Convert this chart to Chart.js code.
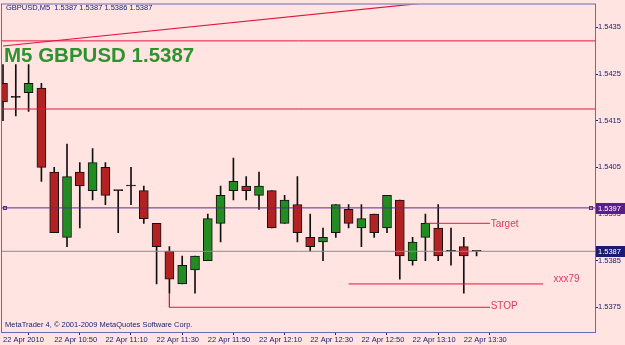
<!DOCTYPE html>
<html><head><meta charset="utf-8">
<script src="https://cdn.jsdelivr.net/npm/chart.js@4/dist/chart.umd.min.js"></script>
<style>html,body{margin:0;padding:0;background:#FFE4E1;overflow:hidden}#wrap{width:625px;height:345px}</style>
</head><body><div id="wrap"><canvas id="c" width="625" height="345"></canvas></div>
<script>
// ---- data (GBPUSD M5, 22 Apr 2010) ----
const barTimes = ['10:30','10:35','10:40','10:45','10:50','10:55','11:00','11:05','11:10','11:15','11:20','11:25','11:30','11:35','11:40','11:45','11:50','11:55','12:00','12:05','12:10','12:15','12:20','12:25','12:30','12:35','12:40','12:45','12:50','12:55','13:00','13:05','13:10','13:15','13:20','13:25','13:30','13:35'];
const openP  = [1.5423,1.5420,1.5421,1.5422,1.5404,1.5390,1.5404,1.5400,1.5405,1.5400,1.5401,1.5400,1.5393,1.5387,1.5380,1.5383,1.5385,1.5393,1.5400,1.5401,1.5399,1.5400,1.5393,1.5397,1.5390,1.5389,1.5391,1.5396,1.5392,1.5395,1.5392,1.5398,1.5385,1.5390,1.5392,1.5387,1.5388,1.5387];
const highP  = [1.5427,1.5427,1.5427,1.5423,1.5405,1.5410,1.5406,1.5409,1.5406,1.5400,1.5405,1.5401,1.5393,1.5388,1.5386,1.5386,1.5395,1.5401,1.5407,1.5403,1.5404,1.5400,1.5399,1.5403,1.5395,1.5392,1.5397,1.5397,1.5397,1.5395,1.5399,1.5398,1.5390,1.5395,1.5397,1.5392,1.5390,1.5387];
const lowP   = [1.5415,1.5416,1.5417,1.5402,1.5391,1.5388,1.5392,1.5398,1.5397,1.5391,1.5397,1.5393,1.5380,1.5378,1.5380,1.5378,1.5385,1.5389,1.5398,1.5398,1.5396,1.5392,1.5393,1.5389,1.5387,1.5385,1.5390,1.5392,1.5388,1.5390,1.5391,1.5381,1.5384,1.5385,1.5385,1.5384,1.5378,1.5386];
const closeP = [1.5419,1.5420,1.5423,1.5405,1.5391,1.5403,1.5401,1.5406,1.5399,1.5400,1.5401,1.5394,1.5388,1.5381,1.5384,1.5386,1.5394,1.5399,1.5402,1.5400,1.5401,1.5392,1.5398,1.5391,1.5388,1.5390,1.5397,1.5393,1.5394,1.5391,1.5399,1.5386,1.5389,1.5393,1.5386,1.5387,1.5386,1.5387];

const xTickTimes  = ['10:30','10:50','11:10','11:30','11:50','12:10','12:30','12:50','13:10','13:30'];
const xTickLabels = ['22 Apr 2010','22 Apr 10:50','22 Apr 11:10','22 Apr 11:30','22 Apr 11:50','22 Apr 12:10','22 Apr 12:30','22 Apr 12:50','22 Apr 13:10','22 Apr 13:30'];
const yTickValues = [1.5375,1.5385,1.5395,1.5405,1.5415,1.5425,1.5435];

// horizontal levels
const redLevelTop   = 1.54321;
const redLevelMid   = 1.54175;
const purpleLevel   = 1.53963;
const purpleLabel   = '1.5397';
const bidLevel      = 1.5387;
const bidLabel      = '1.5387';
// trend line (bar index, price)
const trendStart = [0, 1.5431];
const trendEnd   = [40, 1.54422];
// drawn objects (bar index ranges, price)
const targetLine = {from: 33, to: 38.05, price: 1.5393};
const xxxLine    = {from: 27, to: 42.2, price: 1.5380};
const stopLine   = {from: 13, to: 38.05, price: 1.5375, top: 1.5378};
const textObjects = [
  {text: 'Target', bar: 38.1, price: 1.53928},
  {text: 'xxx79',  bar: 43.0, price: 1.53810},
  {text: 'STOP',   bar: 38.1, price: 1.53753}
];
const headerText = 'GBPUSD,M5  1.5387 1.5387 1.5386 1.5387';
const titleText  = 'M5 GBPUSD 1.5387';
const footerText = 'MetaTrader 4, \u00A9 2001-2009 MetaQuotes Software Corp.';

// ---- axis range ----
const xMin = -0.078, xMax = 46.25;
const yMin = 1.53697, yMax = 1.54399;

const NAVY = '#1c2478', FRAME = '#6a6ab4', BG = '#FFE4E1';
const GREEN = '#228B22', RED = '#B22222', LINE_RED = '#E0163F', TEXT_RED = '#E23A62';
const smallFont = '7.5px "Liberation Sans", Arial, sans-serif';

const idx = barTimes.map((t, i) => i);
const bodyData = idx.map(i => ({x: i, y: [openP[i], closeP[i]]}));
const wickData = idx.map(i => ({x: i, y: [lowP[i], highP[i]]}));
const bodyColors = idx.map(i => closeP[i] > openP[i] ? GREEN : (closeP[i] < openP[i] ? RED : '#000'));

function hline(level, color, x0 = xMin, x1 = xMax) {
  return {type: 'line', data: [{x: x0, y: level}, {x: x1, y: level}], borderColor: color, borderWidth: 1,
          pointRadius: 0, fill: false, order: 0, tension: 0};
}

const bgPlugin = {
  id: 'mtdecor',
  beforeDraw(chart) {
    const ctx = chart.ctx;
    ctx.save(); ctx.fillStyle = BG; ctx.fillRect(0, 0, chart.width, chart.height); ctx.restore();
  },
  afterDraw(chart) {
    const ctx = chart.ctx, ca = chart.chartArea;
    const xs = chart.scales.x, ys = chart.scales.y;
    ctx.save();
    // frame
    ctx.strokeStyle = FRAME; ctx.lineWidth = 1;
    ctx.strokeRect(ca.left - 0.5, ca.top - 0.5, ca.right - ca.left + 1, ca.bottom - ca.top + 1);
    // header
    ctx.fillStyle = NAVY; ctx.font = smallFont; ctx.textBaseline = 'middle'; ctx.textAlign = 'left';
    ctx.fillText(headerText, 6, 8);
    ctx.fillText(footerText, 5, 324.5);
    // title
    ctx.fillStyle = '#2f922f'; ctx.font = 'bold 20.5px "Liberation Sans", Arial, sans-serif'; ctx.textBaseline = 'alphabetic';
    ctx.fillText(titleText, 4, 62);
    // text objects
    ctx.fillStyle = TEXT_RED; ctx.font = '10px "Liberation Sans", Arial, sans-serif'; ctx.textBaseline = 'middle';
    textObjects.forEach(o => ctx.fillText(o.text, xs.getPixelForValue(o.bar), ys.getPixelForValue(o.price)));
    // purple line handles
    const py = Math.round(ys.getPixelForValue(purpleLevel)) + 0.5;
    ctx.strokeStyle = '#5a2a8e';
    ctx.strokeRect(ca.left + 1.5, py - 2, 3, 3);
    ctx.strokeRect(ca.right - 5.5, py - 2, 3, 3);
    // axis price labels
    const boxes = [[purpleLevel, purpleLabel, '#5a1e8c'], [bidLevel, bidLabel, '#1a1a70']];
    ctx.font = smallFont; ctx.textBaseline = 'middle';
    boxes.forEach(([lvl, txt, col]) => {
      const y = ys.getPixelForValue(lvl);
      ctx.fillStyle = col; ctx.fillRect(ca.right + 1, Math.round(y) - 5, chart.width - ca.right - 1, 11);
      ctx.fillStyle = '#ffffff'; ctx.fillText(txt, ca.right + 3, Math.round(y) + 0.5);
    });
    ctx.restore();
  }
};

new Chart(document.getElementById('c'), {
  type: 'bar',
  data: {
    datasets: [
      hline(redLevelTop, LINE_RED),
      hline(redLevelMid, LINE_RED),
      hline(purpleLevel, '#5a2a8e'),
      hline(bidLevel, '#8c8c8c'),
      {type: 'line', data: [{x: trendStart[0], y: trendStart[1]}, {x: trendEnd[0], y: trendEnd[1]}], borderColor: LINE_RED, borderWidth: 1.2, pointRadius: 0, order: 0},
      hline(targetLine.price, LINE_RED, targetLine.from, targetLine.to),
      hline(xxxLine.price, LINE_RED, xxxLine.from, xxxLine.to),
      {type: 'line', data: [{x: stopLine.from, y: stopLine.top}, {x: stopLine.from, y: stopLine.price}, {x: stopLine.to, y: stopLine.price}], borderColor: LINE_RED, borderWidth: 1, pointRadius: 0, order: 0},
      {type: 'bar', data: bodyData, backgroundColor: bodyColors, borderColor: '#111', borderWidth: 1, borderSkipped: false,
       barThickness: 9, minBarLength: 1, grouped: false, order: 1},
      {type: 'bar', data: wickData, backgroundColor: '#111', borderWidth: 0, barThickness: 1, grouped: false, order: 2}
    ]
  },
  options: {
    responsive: false, animation: false, devicePixelRatio: 1,
    layout: {padding: {left: 2, top: 2, right: 0, bottom: 0}},
    plugins: {legend: {display: false}, tooltip: {enabled: false}},
    scales: {
      x: {
        type: 'linear', min: xMin, max: xMax, offset: false,
        afterBuildTicks: s => { s.ticks = xTickTimes.map(t => ({value: barTimes.indexOf(t)})); },
        afterFit: s => { s.height = 13; },
        ticks: {autoSkip: false, maxRotation: 0, minRotation: 0, align: 'start', padding: 0, color: NAVY, font: {family: '"Liberation Sans", Arial, sans-serif', size: 7.5},
                callback: v => xTickLabels[xTickTimes.indexOf(barTimes[v])] },
        grid: {drawOnChartArea: false, drawTicks: true, tickLength: 3, tickColor: NAVY},
        border: {color: FRAME}
      },
      y: {
        type: 'linear', position: 'right', min: yMin, max: yMax,
        afterBuildTicks: s => { s.ticks = yTickValues.map(v => ({value: v})); },
        afterFit: s => { s.width = 30; },
        ticks: {padding: 0, color: NAVY, font: {family: '"Liberation Sans", Arial, sans-serif', size: 7.5}, callback: v => Number(v).toFixed(4)},
        grid: {drawOnChartArea: false, drawTicks: true, tickLength: 3, tickColor: NAVY},
        border: {color: FRAME}
      }
    }
  },
  plugins: [bgPlugin]
});
</script></body></html>
